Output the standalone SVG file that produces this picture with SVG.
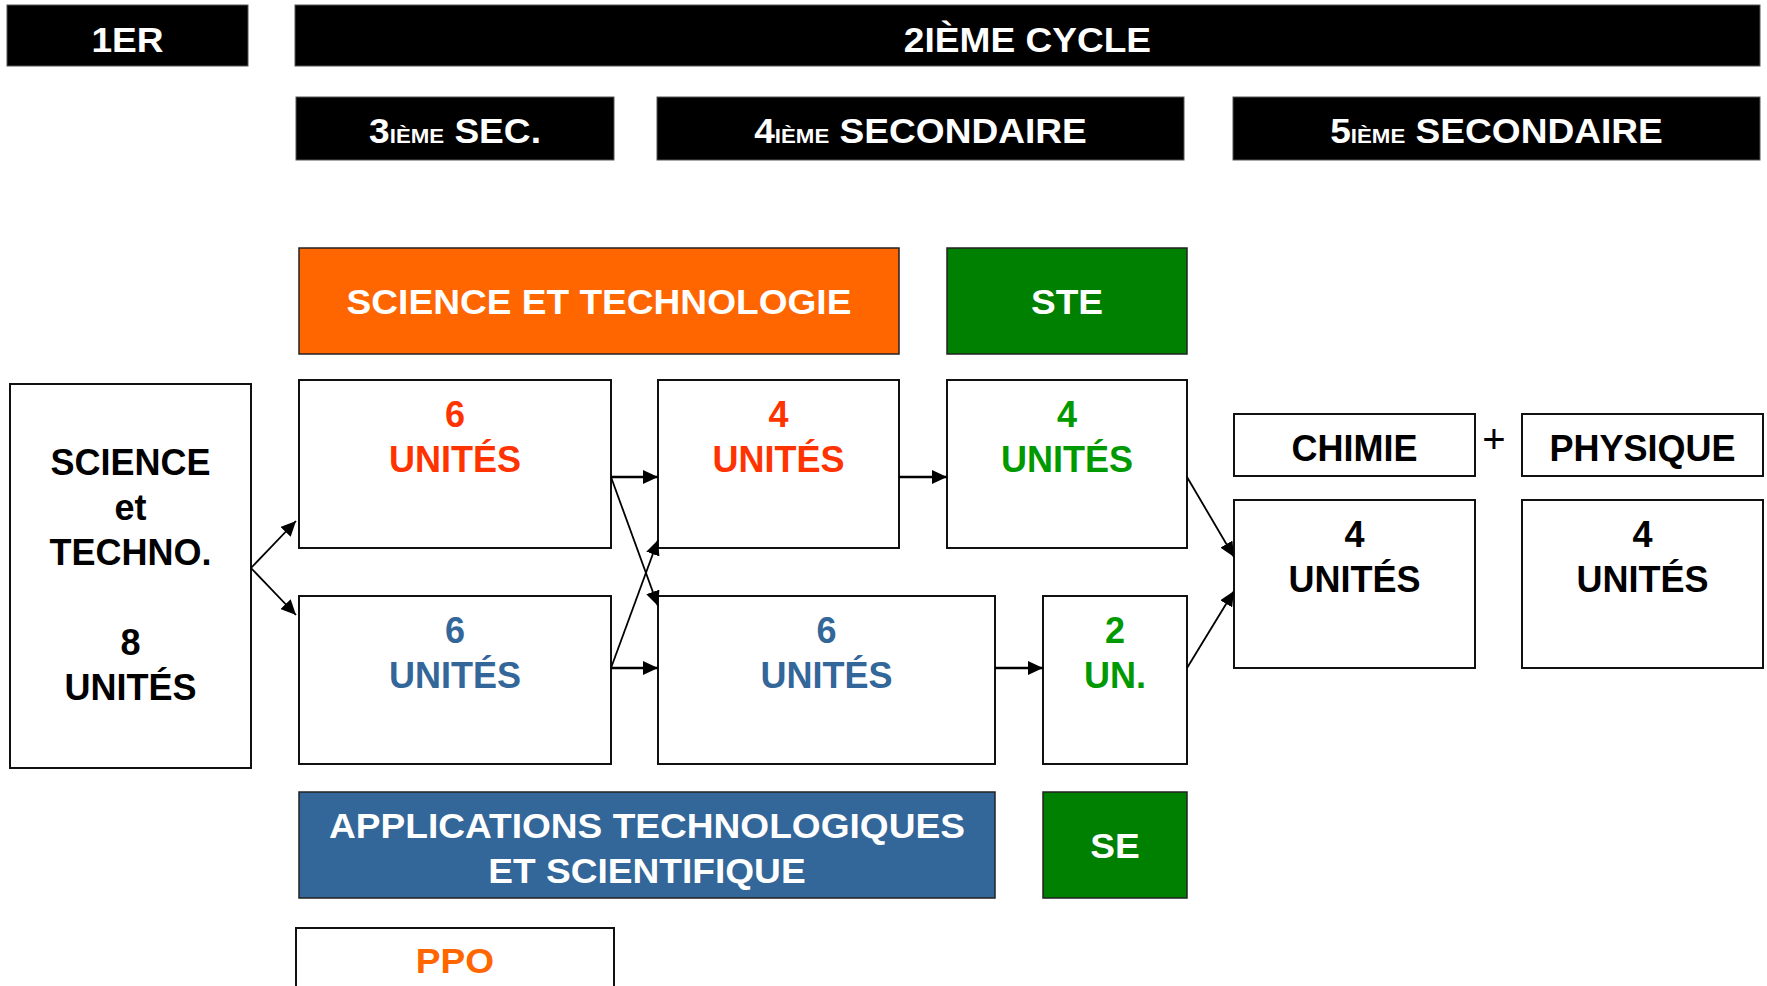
<svg xmlns="http://www.w3.org/2000/svg" width="1767" height="986" viewBox="0 0 1767 986">
<style>
.hb{fill:#000;stroke:#555;stroke-width:1}
.box{fill:#fff;stroke:#111;stroke-width:2}
.cb{stroke:#222;stroke-width:1.5}
.ht{font-family:"Liberation Sans",Arial,sans-serif;font-weight:bold;font-size:35px;fill:#fff;text-anchor:middle}
.sm{font-size:21px}
.ut{font-family:"Liberation Sans",Arial,sans-serif;font-weight:bold;font-size:36px;text-anchor:middle}
.red{fill:#FF3300}.grn{fill:#009900}.blu{fill:#336699}.blk{fill:#000}
.thick{stroke:#000;stroke-width:2.6;fill:none}
.thin{stroke:#000;stroke-width:1.8;fill:none}
</style>
<defs>
<marker id="ah" markerUnits="userSpaceOnUse" markerWidth="15" markerHeight="14" refX="15" refY="7" orient="auto">
<path d="M0,0 L15,7 L0,14 z" fill="#000"/>
</marker>
</defs>
<rect width="1767" height="986" fill="#fff"/>

<g id="hdr-1er">
<rect class="hb" x="7" y="5" width="241" height="61"/>
<text class="ht" transform="scale(1.06 1)" x="120.28" y="52.5">1ER</text>
</g>
<g id="hdr-2cycle">
<rect class="hb" x="295" y="5" width="1465" height="61"/>
<text class="ht" transform="scale(1.06 1)" x="969.34" y="52.5">2IÈME CYCLE</text>
</g>
<g id="hdr-3sec">
<rect class="hb" x="296" y="97" width="318" height="63"/>
<text class="ht" transform="scale(1.06 1)" x="429.25" y="143.5">3<tspan class="sm">IÈME</tspan> SEC.</text>
</g>
<g id="hdr-4sec">
<rect class="hb" x="657" y="97" width="527" height="63"/>
<text class="ht" transform="scale(1.06 1)" x="868.4" y="143.5">4<tspan class="sm">IÈME</tspan> SECONDAIRE</text>
</g>
<g id="hdr-5sec">
<rect class="hb" x="1233" y="97" width="527" height="63"/>
<text class="ht" transform="scale(1.06 1)" x="1411.79" y="143.5">5<tspan class="sm">IÈME</tspan> SECONDAIRE</text>
</g>

<g id="st">
<rect class="cb" x="299" y="248" width="600" height="106" fill="#FF6600"/>
<text class="ht" transform="scale(1.06 1)" x="565.09" y="314.5">SCIENCE ET TECHNOLOGIE</text>
</g>
<g id="ste">
<rect class="cb" x="947" y="248" width="240" height="106" fill="#008000"/>
<text class="ht" transform="scale(1.06 1)" x="1006.6" y="314.5">STE</text>
</g>

<g id="sci-techno">
<rect class="box" x="10" y="384" width="241" height="384"/>
<text class="ut blk" x="130.5" y="475">SCIENCE</text>
<text class="ut blk" x="130.5" y="520">et</text>
<text class="ut blk" x="130.5" y="565">TECHNO.</text>
<text class="ut blk" x="130.5" y="655">8</text>
<text class="ut blk" x="130.5" y="700">UNITÉS</text>
</g>

<g id="u3-st">
<rect class="box" x="299" y="380" width="312" height="168"/>
<text class="ut red" x="455" y="427">6</text>
<text class="ut red" x="455" y="472">UNITÉS</text>
</g>
<g id="u3-ats">
<rect class="box" x="299" y="596" width="312" height="168"/>
<text class="ut blu" x="455" y="643">6</text>
<text class="ut blu" x="455" y="688">UNITÉS</text>
</g>
<g id="u4-st">
<rect class="box" x="658" y="380" width="241" height="168"/>
<text class="ut red" x="778.5" y="427">4</text>
<text class="ut red" x="778.5" y="472">UNITÉS</text>
</g>
<g id="u4-ste">
<rect class="box" x="947" y="380" width="240" height="168"/>
<text class="ut grn" x="1067" y="427">4</text>
<text class="ut grn" x="1067" y="472">UNITÉS</text>
</g>
<g id="u4-ats">
<rect class="box" x="658" y="596" width="337" height="168"/>
<text class="ut blu" x="826.5" y="643">6</text>
<text class="ut blu" x="826.5" y="688">UNITÉS</text>
</g>
<g id="u4-se">
<rect class="box" x="1043" y="596" width="144" height="168"/>
<text class="ut grn" x="1115" y="643">2</text>
<text class="ut grn" x="1115" y="688">UN.</text>
</g>

<g id="chimie">
<rect class="box" x="1234" y="414" width="241" height="62"/>
<text class="ut blk" x="1354.5" y="461">CHIMIE</text>
</g>
<g id="plus">
<text class="ut blk" style="font-size:40px;font-weight:normal" x="1494" y="453">+</text>
</g>
<g id="physique">
<rect class="box" x="1522" y="414" width="241" height="62"/>
<text class="ut blk" x="1642.5" y="461">PHYSIQUE</text>
</g>
<g id="u5-chimie">
<rect class="box" x="1234" y="500" width="241" height="168"/>
<text class="ut blk" x="1354.5" y="547">4</text>
<text class="ut blk" x="1354.5" y="592">UNITÉS</text>
</g>
<g id="u5-physique">
<rect class="box" x="1522" y="500" width="241" height="168"/>
<text class="ut blk" x="1642.5" y="547">4</text>
<text class="ut blk" x="1642.5" y="592">UNITÉS</text>
</g>

<g id="ats">
<rect class="cb" x="299" y="792" width="696" height="106" fill="#336699"/>
<text class="ht" transform="scale(1.06 1)" x="610.38" y="838.5">APPLICATIONS TECHNOLOGIQUES</text>
<text class="ht" transform="scale(1.06 1)" x="610.38" y="883.5">ET SCIENTIFIQUE</text>
</g>
<g id="se">
<rect class="cb" x="1043" y="792" width="144" height="106" fill="#008000"/>
<text class="ht" transform="scale(1.06 1)" x="1051.89" y="858.5">SE</text>
</g>
<g id="ppo">
<rect class="box" x="296" y="928" width="318" height="70"/>
<text class="ht" transform="scale(1.06 1)" x="429.25" y="973.5" style="fill:#FF6600">PPO</text>
</g>

<g id="connectors">
<line class="thin" x1="251" y1="568" x2="296" y2="521" marker-end="url(#ah)"/>
<line class="thin" x1="251" y1="568" x2="296" y2="615" marker-end="url(#ah)"/>
<line class="thick" x1="611" y1="477" x2="658" y2="477" marker-end="url(#ah)"/>
<line class="thick" x1="611" y1="668" x2="658" y2="668" marker-end="url(#ah)"/>
<line class="thin" x1="611" y1="477" x2="658" y2="606" marker-end="url(#ah)"/>
<line class="thin" x1="611" y1="668" x2="658" y2="540" marker-end="url(#ah)"/>
<line class="thick" x1="899" y1="477" x2="947" y2="477" marker-end="url(#ah)"/>
<line class="thick" x1="995" y1="668" x2="1043" y2="668" marker-end="url(#ah)"/>
<line class="thin" x1="1187" y1="477" x2="1234" y2="557" marker-end="url(#ah)"/>
<line class="thin" x1="1187" y1="668" x2="1234" y2="591" marker-end="url(#ah)"/>
</g>
</svg>
